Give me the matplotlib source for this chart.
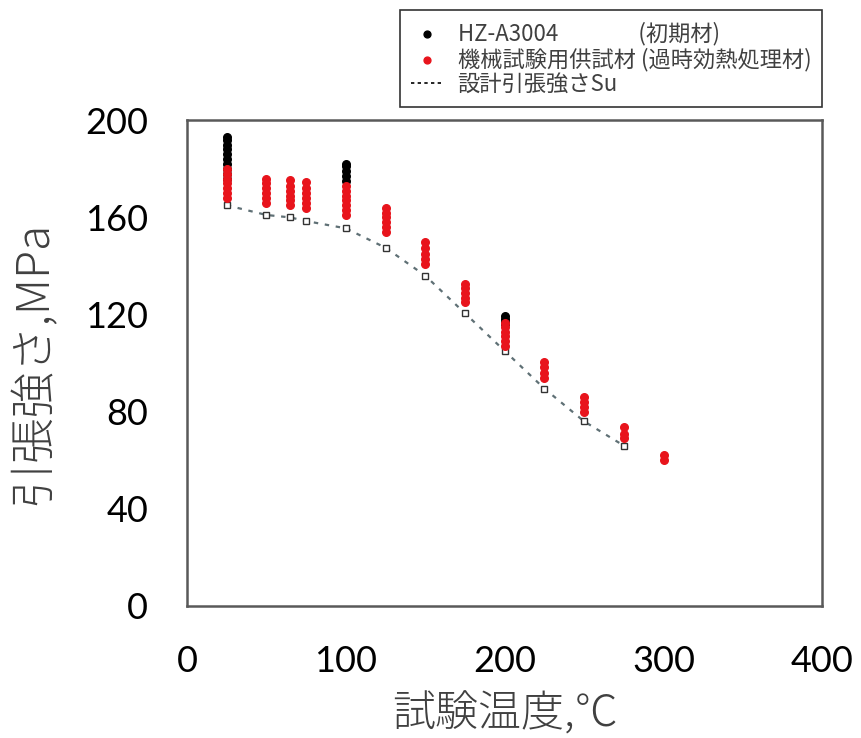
import matplotlib.pyplot as plt

plt.rcParams['font.family'] = ['Noto Sans CJK JP', 'DejaVu Sans']

# design tensile strength Su
su_temp = [25, 50, 65, 75, 100, 125, 150, 175, 200, 225, 250, 275]
su_val = [165, 161, 160, 158.5, 155.5, 147.5, 136, 120.5, 105, 89.5, 76, 66]

# HZ-A3004 (initial material)
hz_temp = [25] * 10 + [100] * 5 + [200] * 4
hz_val = [176, 178, 180, 182, 184, 186, 188, 190, 192, 193,
          175, 177, 179, 181, 182,
          116, 117, 118, 119.5]

# test specimens (overaged)
sp_temp = ([25] * 7 + [50] * 6 + [65] * 6 + [75] * 6 + [100] * 7 + [125] * 6
           + [150] * 5 + [175] * 5 + [200] * 6 + [225] * 4 + [250] * 4
           + [275] * 3 + [300] * 2)
sp_val = [168, 170, 172, 174, 176, 178, 180,
          166, 168, 170, 172, 174, 176,
          165, 167, 169, 171, 173, 175.5,
          164, 166, 168, 170, 172, 174.5,
          161, 163, 165, 167, 169, 171, 173,
          154, 156, 158, 160, 162, 164,
          141, 143, 145, 147.5, 150,
          125, 127, 129, 131, 132.5,
          107, 109, 111, 113, 115, 116.5,
          94, 96, 98.5, 100.5,
          80, 82, 84, 86,
          69, 71, 73.5,
          60, 62]

fig = plt.figure(figsize=(8.62, 7.38), dpi=100)
ax = fig.add_axes([0.217, 0.179, 0.737, 0.658])

h_hz = ax.scatter(hz_temp, hz_val, s=30, color='black', zorder=3)
h_sp = ax.scatter(sp_temp, sp_val, s=30, color='#e8141c', zorder=4)
ax.plot(su_temp, su_val, color='#5f7075', linestyle=(0, (2, 3)), lw=1.6,
        marker='s', markersize=5, markerfacecolor='white',
        markeredgecolor='#333333', markeredgewidth=1, zorder=2)

ax.set_xlim(0, 400)
ax.set_ylim(0, 200)
ax.set_xticks([0, 100, 200, 300, 400])
ax.set_yticks([0, 40, 80, 120, 160, 200])
ax.tick_params(length=0, labelsize=26)
ax.tick_params(axis='x', pad=28)
ax.tick_params(axis='y', pad=28)
for lab in ax.get_xticklabels() + ax.get_yticklabels():
    lab.set_family(['Lato', 'DejaVu Sans'])
for sp in ax.spines.values():
    sp.set_color('#595959')
    sp.set_linewidth(1.8)

ax.set_xlabel('試験温度,℃', fontsize=31, color='#404040', labelpad=10,
              fontweight='light')
ax.set_ylabel('引張強さ,MPa', fontsize=33, color='#404040', labelpad=20,
              fontweight='light')

leg_line = plt.Line2D([], [], color='black', linestyle=(0, (2, 2)), lw=1.2)
hs = [h_hz, h_sp, leg_line]
ls = ['HZ-A3004                (初期材)', '機械試験用供試材 (過時効熱処理材)', '設計引張強さSu']
leg = fig.legend(hs, ls, loc='upper right', bbox_to_anchor=(0.954, 0.986),
                 borderaxespad=0, fontsize=16, frameon=True, fancybox=False,
                 edgecolor='black', handlelength=1.4, handletextpad=0.7,
                 borderpad=0.5, labelspacing=0.1, markerscale=0.9)
leg.get_frame().set_linewidth(1.2)
for t in leg.get_texts():
    t.set_color('#404040')

fig.savefig('out.png', dpi=100)
